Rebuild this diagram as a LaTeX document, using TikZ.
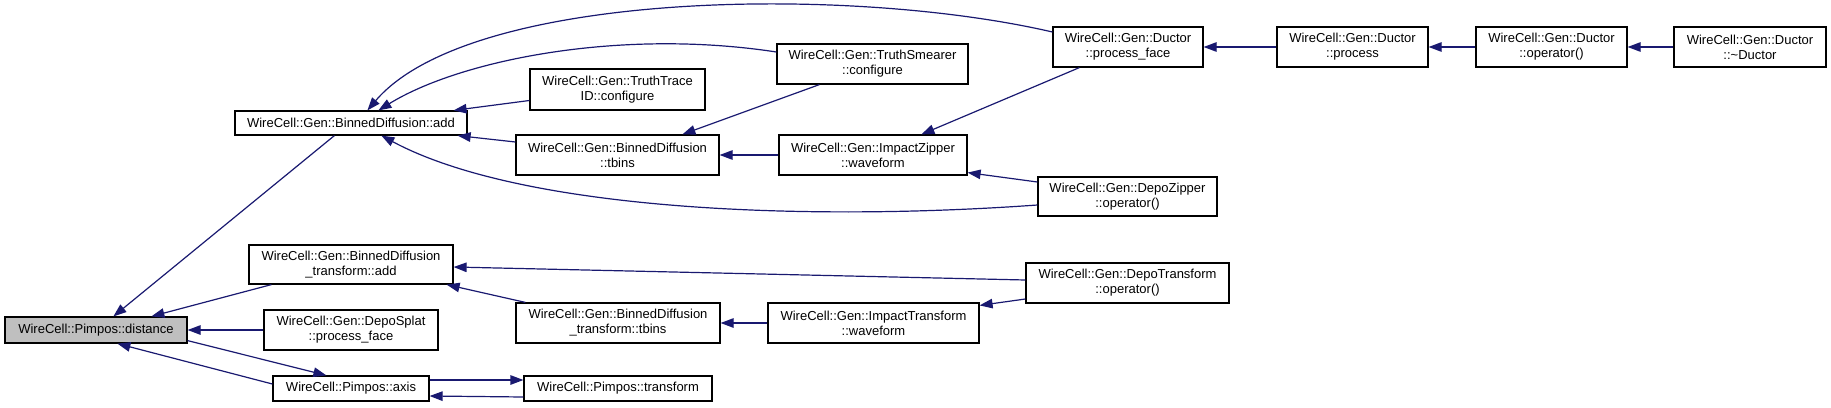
\documentclass[tikz,border=0pt]{standalone}
\usepackage{fontspec}
\setmainfont{Liberation Sans}
\usetikzlibrary{arrows.meta,calc}
\definecolor{edgeblue}{HTML}{191970}
\definecolor{focusgray}{HTML}{BFBFBF}
\tikzset{
  fnbox/.style={rectangle, draw=black, line width=1.2pt, fill=white, inner sep=0pt,
    align=center, font=\fontsize{13}{15}\selectfont},
  calledge/.style={draw=edgeblue, line width=1.2pt, -{Triangle[length=13pt,width=9.5pt]}},
}
\begin{document}
\begin{tikzpicture}[x=1pt,y=-1pt]
\useasboundingbox (0,0) rectangle (1831,407);
% nodes
\node[fnbox, fill=focusgray, minimum width=182pt, minimum height=26pt] (dist) at (96,330) {WireCell::Pimpos::distance};
\node[fnbox, minimum width=232pt, minimum height=24pt] (add) at (351,123) {WireCell::Gen::BinnedDiffusion::add};
\node[fnbox, minimum width=204pt, minimum height=39pt] (tadd) at (351,264.5) {WireCell::Gen::BinnedDiffusion\\\_transform::add};
\node[fnbox, minimum width=174pt, minimum height=40pt] (splat) at (351,330) {WireCell::Gen::DepoSplat\\::process\_face};
\node[fnbox, minimum width=156pt, minimum height=25pt] (axis) at (351,388.5) {WireCell::Pimpos::axis};
\node[fnbox, minimum width=175pt, minimum height=41pt] (ttid) at (617.5,89.5) {WireCell::Gen::TruthTrace\\ID::configure};
\node[fnbox, minimum width=203pt, minimum height=40pt] (tbins) at (617.5,155) {WireCell::Gen::BinnedDiffusion\\::tbins};
\node[fnbox, minimum width=204pt, minimum height=40pt] (ttbins) at (618,323) {WireCell::Gen::BinnedDiffusion\\\_transform::tbins};
\node[fnbox, minimum width=188pt, minimum height=25pt] (trans) at (618,388.5) {WireCell::Pimpos::transform};
\node[fnbox, minimum width=191pt, minimum height=40pt] (smear) at (872.5,64) {WireCell::Gen::TruthSmearer\\::configure};
\node[fnbox, minimum width=188pt, minimum height=40pt] (zip) at (873,155) {WireCell::Gen::ImpactZipper\\::waveform};
\node[fnbox, minimum width=211pt, minimum height=40pt] (itrans) at (873.5,323) {WireCell::Gen::ImpactTransform\\::waveform};
\node[fnbox, minimum width=150pt, minimum height=40pt] (pface) at (1128,47) {WireCell::Gen::Ductor\\::process\_face};
\node[fnbox, minimum width=179pt, minimum height=39pt] (dzip) at (1127.5,196.5) {WireCell::Gen::DepoZipper\\::operator()};
\node[fnbox, minimum width=203pt, minimum height=40pt] (dtrans) at (1127.5,283) {WireCell::Gen::DepoTransform\\::operator()};
\node[fnbox, minimum width=151pt, minimum height=40pt] (proc) at (1352.5,47) {WireCell::Gen::Ductor\\::process};
\node[fnbox, minimum width=151pt, minimum height=40pt] (oper) at (1551.5,47) {WireCell::Gen::Ductor\\::operator()};
\node[fnbox, minimum width=152pt, minimum height=40pt] (dtor) at (1750,47) {WireCell::Gen::Ductor\\::\textasciitilde Ductor};
% edges
\draw[calledge] ($(add.south west)+(100,0)$) -- ($(dist.north west)+(109,0)$);
\draw[calledge] ($(tadd.south west)+(23,0)$) -- ($(dist.north west)+(147,0)$);
\draw[calledge] (splat.west) -- (dist.east);
\draw[calledge] ($(dist.south east)+(0,-3)$) -- ($(axis.north west)+(54,0)$);
\draw[calledge] ($(axis.west)+(0,-4.5)$) -- ($(dist.south west)+(113,0)$);
\draw[calledge] ($(axis.east)+(0,-8.5)$) -- ($(trans.west)+(0,-8.5)$);
\draw[calledge] ($(trans.west)+(0,8.5)$) -- ($(axis.east)+(0,7.5)$);
\draw[calledge] ($(ttid.west)+(0,11)$) -- ($(add.north east)+(-14,0)$);
\draw[calledge] ($(tbins.west)+(0,-13)$) -- ($(add.south east)+(-10,0)$);
\draw[calledge] (zip.west) -- (tbins.east);
\draw[calledge] ($(smear.south west)+(43,0)$) -- ($(tbins.north west)+(167,0)$);
\draw[calledge] ($(smear.west)+(0,-12)$) .. controls (620,28) and (460,60) .. ($(add.north west)+(144,0)$);
\draw[calledge] ($(pface.west)+(0,-15)$) .. controls (850,-15) and (470,-10) .. ($(add.north west)+(133,0)$);
\draw[calledge] ($(pface.south west)+(27,0)$) -- ($(zip.north west)+(143,0)$);
\draw[calledge] ($(dzip.west)+(0,-14.5)$) -- ($(zip.south east)+(0,-3)$);
\draw[calledge] ($(dzip.west)+(0,8.5)$) .. controls (800,222) and (520,210) .. ($(add.south west)+(147,0)$);
\draw[calledge] (proc.west) -- (pface.east);
\draw[calledge] (oper.west) -- (proc.east);
\draw[calledge] (dtor.west) -- (oper.east);
\draw[calledge] ($(dtrans.west)+(0,-3)$) -- ($(tadd.east)+(0,2.5)$);
\draw[calledge] ($(dtrans.west)+(0,16)$) -- ($(itrans.north east)+(0,3)$);
\draw[calledge] (itrans.west) -- (ttbins.east);
\draw[calledge] ($(ttbins.north west)+(10,0)$) -- ($(tadd.south east)+(-7,0)$);
\end{tikzpicture}
\end{document}
